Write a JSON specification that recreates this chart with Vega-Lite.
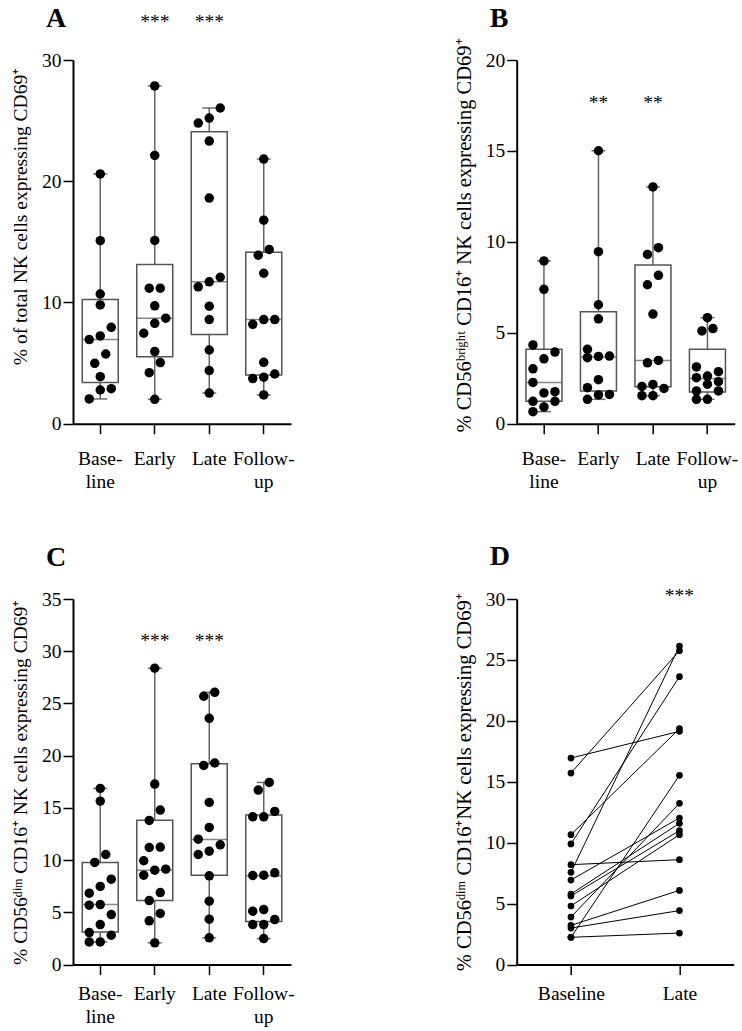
{
  "$schema": "https://vega.github.io/schema/vega-lite/v6.json",
  "background": "white",
  "padding": {"left": 10, "top": 5, "right": 5, "bottom": 5},
  "columns": 2,
  "spacing": {"row": 175, "column": 225.7},
  "bounds": "flush",
  "datasets": {
    "pa": [
      {"group": "Baseline", "value": 20.6}, {"group": "Baseline", "value": 15.1}, {"group": "Baseline", "value": 10.7}, {"group": "Baseline", "value": 9.8}, {"group": "Baseline", "value": 7.95}, {"group": "Baseline", "value": 7.24}, {"group": "Baseline", "value": 6.94}, {"group": "Baseline", "value": 5.75}, {"group": "Baseline", "value": 4.98}, {"group": "Baseline", "value": 3.88}, {"group": "Baseline", "value": 2.89}, {"group": "Baseline", "value": 2.78}, {"group": "Baseline", "value": 2.04},
      {"group": "Early", "value": 27.86}, {"group": "Early", "value": 22.13}, {"group": "Early", "value": 15.11}, {"group": "Early", "value": 11.18}, {"group": "Early", "value": 11.18}, {"group": "Early", "value": 9.72}, {"group": "Early", "value": 8.7}, {"group": "Early", "value": 8.28}, {"group": "Early", "value": 7.46}, {"group": "Early", "value": 5.95}, {"group": "Early", "value": 5.04}, {"group": "Early", "value": 4.21}, {"group": "Early", "value": 2.01},
      {"group": "Late", "value": 26.04}, {"group": "Late", "value": 25.21}, {"group": "Late", "value": 24.8}, {"group": "Late", "value": 23.31}, {"group": "Late", "value": 18.61}, {"group": "Late", "value": 12.08}, {"group": "Late", "value": 11.7}, {"group": "Late", "value": 11.29}, {"group": "Late", "value": 9.69}, {"group": "Late", "value": 8.59}, {"group": "Late", "value": 6.08}, {"group": "Late", "value": 4.38}, {"group": "Late", "value": 2.53},
      {"group": "Follow-up", "value": 21.83}, {"group": "Follow-up", "value": 16.79}, {"group": "Follow-up", "value": 14.37}, {"group": "Follow-up", "value": 13.9}, {"group": "Follow-up", "value": 12.41}, {"group": "Follow-up", "value": 8.59}, {"group": "Follow-up", "value": 8.59}, {"group": "Follow-up", "value": 8.2}, {"group": "Follow-up", "value": 5.06}, {"group": "Follow-up", "value": 4.1}, {"group": "Follow-up", "value": 3.83}, {"group": "Follow-up", "value": 3.72}, {"group": "Follow-up", "value": 2.37}
    ],
    "sa": [
      {"group": "Baseline", "min": 2.04, "q1": 3.39, "med": 6.94, "q3": 10.24, "max": 20.6},
      {"group": "Early", "min": 2.01, "q1": 5.53, "med": 8.7, "q3": 13.13, "max": 27.86},
      {"group": "Late", "min": 2.53, "q1": 7.35, "med": 11.7, "q3": 24.08, "max": 26.04},
      {"group": "Follow-up", "min": 2.37, "q1": 4.02, "med": 8.59, "q3": 14.15, "max": 21.83}
    ],
    "pb": [
      {"group": "Baseline", "value": 8.95}, {"group": "Baseline", "value": 7.39}, {"group": "Baseline", "value": 4.33}, {"group": "Baseline", "value": 3.94}, {"group": "Baseline", "value": 3.57}, {"group": "Baseline", "value": 3.02}, {"group": "Baseline", "value": 2.27}, {"group": "Baseline", "value": 1.76}, {"group": "Baseline", "value": 1.69}, {"group": "Baseline", "value": 1.23}, {"group": "Baseline", "value": 1.23}, {"group": "Baseline", "value": 0.92}, {"group": "Baseline", "value": 0.66},
      {"group": "Early", "value": 15.01}, {"group": "Early", "value": 9.46}, {"group": "Early", "value": 6.54}, {"group": "Early", "value": 5.77}, {"group": "Early", "value": 4.09}, {"group": "Early", "value": 3.72}, {"group": "Early", "value": 3.7}, {"group": "Early", "value": 3.63}, {"group": "Early", "value": 2.42}, {"group": "Early", "value": 1.98}, {"group": "Early", "value": 1.61}, {"group": "Early", "value": 1.58}, {"group": "Early", "value": 1.34},
      {"group": "Late", "value": 13.02}, {"group": "Late", "value": 9.68}, {"group": "Late", "value": 9.31}, {"group": "Late", "value": 8.16}, {"group": "Late", "value": 7.64}, {"group": "Late", "value": 6.03}, {"group": "Late", "value": 3.48}, {"group": "Late", "value": 3.35}, {"group": "Late", "value": 2.16}, {"group": "Late", "value": 2.05}, {"group": "Late", "value": 1.94}, {"group": "Late", "value": 1.54}, {"group": "Late", "value": 1.54},
      {"group": "Follow-up", "value": 5.83}, {"group": "Follow-up", "value": 5.23}, {"group": "Follow-up", "value": 5.1}, {"group": "Follow-up", "value": 3.12}, {"group": "Follow-up", "value": 2.86}, {"group": "Follow-up", "value": 2.62}, {"group": "Follow-up", "value": 2.53}, {"group": "Follow-up", "value": 2.31}, {"group": "Follow-up", "value": 2.17}, {"group": "Follow-up", "value": 1.8}, {"group": "Follow-up", "value": 1.8}, {"group": "Follow-up", "value": 1.34}, {"group": "Follow-up", "value": 1.34}
    ],
    "sb": [
      {"group": "Baseline", "min": 0.66, "q1": 1.23, "med": 2.27, "q3": 4.09, "max": 8.95},
      {"group": "Early", "min": 1.34, "q1": 1.8, "med": 3.67, "q3": 6.16, "max": 15.01},
      {"group": "Late", "min": 1.54, "q1": 2.03, "med": 3.48, "q3": 8.73, "max": 13.02},
      {"group": "Follow-up", "min": 1.34, "q1": 1.74, "med": 2.49, "q3": 4.09, "max": 5.83}
    ],
    "pc": [
      {"group": "Baseline", "value": 16.87}, {"group": "Baseline", "value": 15.65}, {"group": "Baseline", "value": 10.54}, {"group": "Baseline", "value": 9.78}, {"group": "Baseline", "value": 8.18}, {"group": "Baseline", "value": 7.48}, {"group": "Baseline", "value": 6.84}, {"group": "Baseline", "value": 5.75}, {"group": "Baseline", "value": 5.69}, {"group": "Baseline", "value": 4.79}, {"group": "Baseline", "value": 3.83}, {"group": "Baseline", "value": 3.07}, {"group": "Baseline", "value": 2.81}, {"group": "Baseline", "value": 2.17}, {"group": "Baseline", "value": 2.17},
      {"group": "Early", "value": 28.37}, {"group": "Early", "value": 17.28}, {"group": "Early", "value": 14.79}, {"group": "Early", "value": 13.8}, {"group": "Early", "value": 11.25}, {"group": "Early", "value": 11.21}, {"group": "Early", "value": 9.94}, {"group": "Early", "value": 9.14}, {"group": "Early", "value": 9.04}, {"group": "Early", "value": 8.56}, {"group": "Early", "value": 6.9}, {"group": "Early", "value": 6.13}, {"group": "Early", "value": 4.89}, {"group": "Early", "value": 4.19}, {"group": "Early", "value": 2.08},
      {"group": "Late", "value": 26.07}, {"group": "Late", "value": 25.69}, {"group": "Late", "value": 23.58}, {"group": "Late", "value": 19.3}, {"group": "Late", "value": 19.07}, {"group": "Late", "value": 15.53}, {"group": "Late", "value": 13.13}, {"group": "Late", "value": 12.01}, {"group": "Late", "value": 11.47}, {"group": "Late", "value": 10.86}, {"group": "Late", "value": 10.54}, {"group": "Late", "value": 8.5}, {"group": "Late", "value": 6.07}, {"group": "Late", "value": 4.35}, {"group": "Late", "value": 2.56},
      {"group": "Follow-up", "value": 17.44}, {"group": "Follow-up", "value": 16.71}, {"group": "Follow-up", "value": 14.66}, {"group": "Follow-up", "value": 14.15}, {"group": "Follow-up", "value": 14.15}, {"group": "Follow-up", "value": 8.79}, {"group": "Follow-up", "value": 8.56}, {"group": "Follow-up", "value": 8.53}, {"group": "Follow-up", "value": 5.27}, {"group": "Follow-up", "value": 5.11}, {"group": "Follow-up", "value": 4.31}, {"group": "Follow-up", "value": 3.83}, {"group": "Follow-up", "value": 3.83}, {"group": "Follow-up", "value": 2.49}
    ],
    "sc": [
      {"group": "Baseline", "min": 2.17, "q1": 3.13, "med": 5.75, "q3": 9.78, "max": 16.87},
      {"group": "Early", "min": 2.08, "q1": 6.13, "med": 9.04, "q3": 13.83, "max": 28.37},
      {"group": "Late", "min": 2.56, "q1": 8.56, "med": 11.98, "q3": 19.23, "max": 26.07},
      {"group": "Follow-up", "min": 2.49, "q1": 4.12, "med": 8.5, "q3": 14.31, "max": 17.44}
    ],
    "pd": [
      {"id": 1, "time": "Baseline", "value": 16.95}, {"id": 1, "time": "Late", "value": 19.14},
      {"id": 2, "time": "Baseline", "value": 15.72}, {"id": 2, "time": "Late", "value": 25.76},
      {"id": 3, "time": "Baseline", "value": 10.66}, {"id": 3, "time": "Late", "value": 19.36},
      {"id": 4, "time": "Baseline", "value": 9.9}, {"id": 4, "time": "Late", "value": 23.63},
      {"id": 5, "time": "Baseline", "value": 8.2}, {"id": 5, "time": "Late", "value": 8.61},
      {"id": 6, "time": "Baseline", "value": 7.57}, {"id": 6, "time": "Late", "value": 26.14},
      {"id": 7, "time": "Baseline", "value": 6.94}, {"id": 7, "time": "Late", "value": 12.03},
      {"id": 8, "time": "Baseline", "value": 5.79}, {"id": 8, "time": "Late", "value": 11.59},
      {"id": 9, "time": "Baseline", "value": 5.63}, {"id": 9, "time": "Late", "value": 10.99},
      {"id": 10, "time": "Baseline", "value": 4.81}, {"id": 10, "time": "Late", "value": 10.66},
      {"id": 11, "time": "Baseline", "value": 3.9}, {"id": 11, "time": "Late", "value": 13.23},
      {"id": 12, "time": "Baseline", "value": 3.22}, {"id": 12, "time": "Late", "value": 6.09},
      {"id": 13, "time": "Baseline", "value": 3.0}, {"id": 13, "time": "Late", "value": 4.43},
      {"id": 14, "time": "Baseline", "value": 2.24}, {"id": 14, "time": "Late", "value": 15.53},
      {"id": 15, "time": "Baseline", "value": 2.24}, {"id": 15, "time": "Late", "value": 2.59}
    ]
  },
  "concat": [
    {
      "width": 218, "height": 363.7,
      "title": {"text": "A", "anchor": "start", "frame": "group", "dx": -27, "offset": -21, "fontSize": 28, "fontWeight": "bold", "font": "Liberation Serif", "color": "black"},
      "layer": [
        {"data": {"name": "sa"}, "mark": {"type": "rule", "color": "#666", "strokeWidth": 1.5},
         "encoding": {
           "x": {"field": "group", "type": "nominal", "title": null, "scale": {"domain": ["Baseline", "Early", "Late", "Follow-up"], "paddingInner": 0, "paddingOuter": 0}, "axis": {"labelPadding": 16, "labelExpr": "datum.value == 'Baseline' ? ['Base-', 'line'] : datum.value == 'Follow-up' ? ['Follow-', 'up'] : datum.value"}},
           "y": {"field": "min", "type": "quantitative", "title": "% of total NK cells expressing CD69⁺", "scale": {"domain": [0, 30], "nice": false}, "axis": {"values": [0, 10, 20, 30], "titleY": 156}},
           "y2": {"field": "max"}}},
        {"data": {"name": "sa"}, "mark": {"type": "bar", "width": 36, "fill": "white", "stroke": "#555", "strokeWidth": 1.5},
         "encoding": {"x": {"field": "group", "type": "nominal", "title": null}, "y": {"field": "q1", "type": "quantitative", "title": "% of total NK cells expressing CD69⁺"}, "y2": {"field": "q3"}}},
        {"data": {"name": "sa"}, "mark": {"type": "tick", "size": 36, "thickness": 1.5, "color": "#555"},
         "encoding": {"x": {"field": "group", "type": "nominal", "title": null}, "y": {"field": "med", "type": "quantitative", "title": "% of total NK cells expressing CD69⁺"}}},
        {"data": {"name": "sa"}, "mark": {"type": "tick", "size": 14, "thickness": 1.5, "color": "#333"},
         "encoding": {"x": {"field": "group", "type": "nominal", "title": null}, "y": {"field": "min", "type": "quantitative", "title": "% of total NK cells expressing CD69⁺"}}},
        {"data": {"name": "sa"}, "mark": {"type": "tick", "size": 14, "thickness": 1.5, "color": "#333"},
         "encoding": {"x": {"field": "group", "type": "nominal", "title": null}, "y": {"field": "max", "type": "quantitative", "title": "% of total NK cells expressing CD69⁺"}}},
        {"data": {"name": "pa"},
         "transform": [
           {"window": [{"op": "lag", "field": "value", "as": "prev"}], "groupby": ["group"], "sort": [{"field": "value", "order": "ascending"}]},
           {"calculate": "datum.prev == null || datum.value - datum.prev > 0.85 ? 1 : 0", "as": "brk"},
           {"window": [{"op": "sum", "field": "brk", "as": "cl"}], "groupby": ["group"], "sort": [{"field": "value", "order": "ascending"}]},
           {"window": [{"op": "row_number", "as": "k"}], "groupby": ["group", "cl"], "sort": [{"field": "value", "order": "ascending"}]},
           {"joinaggregate": [{"op": "count", "as": "n"}], "groupby": ["group", "cl"]},
           {"calculate": "datum.n == 1 ? 0 : datum.n == 2 ? datum.k - 1.5 : ((datum.k - 1) % 3) - 1", "as": "off"}
         ],
         "mark": {"type": "circle", "size": 90, "color": "black", "opacity": 1},
         "encoding": {"x": {"field": "group", "type": "nominal", "title": null},
           "xOffset": {"field": "off", "type": "quantitative", "scale": {"domain": [-1, 1], "range": [16.25, 38.25]}},
           "y": {"field": "value", "type": "quantitative", "title": "% of total NK cells expressing CD69⁺"}}},
        {"data": {"values": [{"group": "Early", "label": "***"}, {"group": "Late", "label": "***"}]},
         "mark": {"type": "text", "fontSize": 19.5, "baseline": "alphabetic", "font": "Liberation Serif", "color": "black"},
         "encoding": {"x": {"field": "group", "type": "nominal", "title": null}, "y": {"datum": 32.6, "type": "quantitative", "title": "% of total NK cells expressing CD69⁺"}, "text": {"field": "label"}}}
      ]
    },
    {
      "width": 218, "height": 363.7,
      "title": {"text": "B", "anchor": "start", "frame": "group", "dx": -27, "offset": 2, "fontSize": 28, "fontWeight": "bold", "font": "Liberation Serif", "color": "black"},
      "layer": [
        {"data": {"name": "sb"}, "mark": {"type": "rule", "color": "#666", "strokeWidth": 1.5},
         "encoding": {
           "x": {"field": "group", "type": "nominal", "title": null, "scale": {"domain": ["Baseline", "Early", "Late", "Follow-up"], "paddingInner": 0, "paddingOuter": 0}, "axis": {"labelPadding": 16, "labelExpr": "datum.value == 'Baseline' ? ['Base-', 'line'] : datum.value == 'Follow-up' ? ['Follow-', 'up'] : datum.value"}},
           "y": {"field": "min", "type": "quantitative", "title": "% CD56ᵇʳⁱᵍʰᵗ CD16⁺ NK  cells expressing CD69⁺", "scale": {"domain": [0, 20], "nice": false}, "axis": {"values": [0, 5, 10, 15, 20], "titleFontSize": 20.5, "titleY": 175}},
           "y2": {"field": "max"}}},
        {"data": {"name": "sb"}, "mark": {"type": "bar", "width": 36, "fill": "white", "stroke": "#555", "strokeWidth": 1.5},
         "encoding": {"x": {"field": "group", "type": "nominal", "title": null}, "y": {"field": "q1", "type": "quantitative", "title": "% CD56ᵇʳⁱᵍʰᵗ CD16⁺ NK  cells expressing CD69⁺"}, "y2": {"field": "q3"}}},
        {"data": {"name": "sb"}, "mark": {"type": "tick", "size": 36, "thickness": 1.5, "color": "#555"},
         "encoding": {"x": {"field": "group", "type": "nominal", "title": null}, "y": {"field": "med", "type": "quantitative", "title": "% CD56ᵇʳⁱᵍʰᵗ CD16⁺ NK  cells expressing CD69⁺"}}},
        {"data": {"name": "sb"}, "mark": {"type": "tick", "size": 14, "thickness": 1.5, "color": "#333"},
         "encoding": {"x": {"field": "group", "type": "nominal", "title": null}, "y": {"field": "min", "type": "quantitative", "title": "% CD56ᵇʳⁱᵍʰᵗ CD16⁺ NK  cells expressing CD69⁺"}}},
        {"data": {"name": "sb"}, "mark": {"type": "tick", "size": 14, "thickness": 1.5, "color": "#333"},
         "encoding": {"x": {"field": "group", "type": "nominal", "title": null}, "y": {"field": "max", "type": "quantitative", "title": "% CD56ᵇʳⁱᵍʰᵗ CD16⁺ NK  cells expressing CD69⁺"}}},
        {"data": {"name": "pb"},
         "transform": [
           {"window": [{"op": "lag", "field": "value", "as": "prev"}], "groupby": ["group"], "sort": [{"field": "value", "order": "ascending"}]},
           {"calculate": "datum.prev == null || datum.value - datum.prev > 0.58 ? 1 : 0", "as": "brk"},
           {"window": [{"op": "sum", "field": "brk", "as": "cl"}], "groupby": ["group"], "sort": [{"field": "value", "order": "ascending"}]},
           {"window": [{"op": "row_number", "as": "k"}], "groupby": ["group", "cl"], "sort": [{"field": "value", "order": "ascending"}]},
           {"joinaggregate": [{"op": "count", "as": "n"}], "groupby": ["group", "cl"]},
           {"calculate": "datum.n == 1 ? 0 : datum.n == 2 ? datum.k - 1.5 : ((datum.k - 1) % 3) - 1", "as": "off"}
         ],
         "mark": {"type": "circle", "size": 90, "color": "black", "opacity": 1},
         "encoding": {"x": {"field": "group", "type": "nominal", "title": null},
           "xOffset": {"field": "off", "type": "quantitative", "scale": {"domain": [-1, 1], "range": [16.25, 38.25]}},
           "y": {"field": "value", "type": "quantitative", "title": "% CD56ᵇʳⁱᵍʰᵗ CD16⁺ NK  cells expressing CD69⁺"}}},
        {"data": {"values": [{"group": "Early", "label": "**"}, {"group": "Late", "label": "**"}]},
         "mark": {"type": "text", "fontSize": 19.5, "baseline": "alphabetic", "font": "Liberation Serif", "color": "black"},
         "encoding": {"x": {"field": "group", "type": "nominal", "title": null}, "y": {"datum": 17.3, "type": "quantitative", "title": "% CD56ᵇʳⁱᵍʰᵗ CD16⁺ NK  cells expressing CD69⁺"}, "text": {"field": "label"}}}
      ]
    },
    {
      "width": 218, "height": 365.6,
      "title": {"text": "C", "anchor": "start", "frame": "group", "dx": -27, "offset": 17, "fontSize": 28, "fontWeight": "bold", "font": "Liberation Serif", "color": "black"},
      "layer": [
        {"data": {"name": "sc"}, "mark": {"type": "rule", "color": "#666", "strokeWidth": 1.5},
         "encoding": {
           "x": {"field": "group", "type": "nominal", "title": null, "scale": {"domain": ["Baseline", "Early", "Late", "Follow-up"], "paddingInner": 0, "paddingOuter": 0}, "axis": {"labelExpr": "datum.value == 'Baseline' ? ['Base-', 'line'] : datum.value == 'Follow-up' ? ['Follow-', 'up'] : datum.value"}},
           "y": {"field": "min", "type": "quantitative", "title": "% CD56ᵈⁱᵐ CD16⁺ NK  cells expressing CD69⁺", "scale": {"domain": [0, 35], "nice": false}, "axis": {"values": [0, 5, 10, 15, 20, 25, 30, 35]}},
           "y2": {"field": "max"}}},
        {"data": {"name": "sc"}, "mark": {"type": "bar", "width": 36, "fill": "white", "stroke": "#555", "strokeWidth": 1.5},
         "encoding": {"x": {"field": "group", "type": "nominal", "title": null}, "y": {"field": "q1", "type": "quantitative", "title": "% CD56ᵈⁱᵐ CD16⁺ NK  cells expressing CD69⁺"}, "y2": {"field": "q3"}}},
        {"data": {"name": "sc"}, "mark": {"type": "tick", "size": 36, "thickness": 1.5, "color": "#555"},
         "encoding": {"x": {"field": "group", "type": "nominal", "title": null}, "y": {"field": "med", "type": "quantitative", "title": "% CD56ᵈⁱᵐ CD16⁺ NK  cells expressing CD69⁺"}}},
        {"data": {"name": "sc"}, "mark": {"type": "tick", "size": 14, "thickness": 1.5, "color": "#333"},
         "encoding": {"x": {"field": "group", "type": "nominal", "title": null}, "y": {"field": "min", "type": "quantitative", "title": "% CD56ᵈⁱᵐ CD16⁺ NK  cells expressing CD69⁺"}}},
        {"data": {"name": "sc"}, "mark": {"type": "tick", "size": 14, "thickness": 1.5, "color": "#333"},
         "encoding": {"x": {"field": "group", "type": "nominal", "title": null}, "y": {"field": "max", "type": "quantitative", "title": "% CD56ᵈⁱᵐ CD16⁺ NK  cells expressing CD69⁺"}}},
        {"data": {"name": "pc"},
         "transform": [
           {"window": [{"op": "lag", "field": "value", "as": "prev"}], "groupby": ["group"], "sort": [{"field": "value", "order": "ascending"}]},
           {"calculate": "datum.prev == null || datum.value - datum.prev > 1.0 ? 1 : 0", "as": "brk"},
           {"window": [{"op": "sum", "field": "brk", "as": "cl"}], "groupby": ["group"], "sort": [{"field": "value", "order": "ascending"}]},
           {"window": [{"op": "row_number", "as": "k"}], "groupby": ["group", "cl"], "sort": [{"field": "value", "order": "ascending"}]},
           {"joinaggregate": [{"op": "count", "as": "n"}], "groupby": ["group", "cl"]},
           {"calculate": "datum.n == 1 ? 0 : datum.n == 2 ? datum.k - 1.5 : ((datum.k - 1) % 3) - 1", "as": "off"}
         ],
         "mark": {"type": "circle", "size": 90, "color": "black", "opacity": 1},
         "encoding": {"x": {"field": "group", "type": "nominal", "title": null},
           "xOffset": {"field": "off", "type": "quantitative", "scale": {"domain": [-1, 1], "range": [16.25, 38.25]}},
           "y": {"field": "value", "type": "quantitative", "title": "% CD56ᵈⁱᵐ CD16⁺ NK  cells expressing CD69⁺"}}},
        {"data": {"values": [{"group": "Early", "label": "***"}, {"group": "Late", "label": "***"}]},
         "mark": {"type": "text", "fontSize": 19.5, "baseline": "alphabetic", "font": "Liberation Serif", "color": "black"},
         "encoding": {"x": {"field": "group", "type": "nominal", "title": null}, "y": {"datum": 30.4, "type": "quantitative", "title": "% CD56ᵈⁱᵐ CD16⁺ NK  cells expressing CD69⁺"}, "text": {"field": "label"}}}
      ]
    },
    {
      "width": 217, "height": 365.6,
      "title": {"text": "D", "anchor": "start", "frame": "group", "dx": -27, "offset": 15, "fontSize": 28, "fontWeight": "bold", "font": "Liberation Serif", "color": "black"},
      "layer": [
        {"data": {"name": "pd"}, "mark": {"type": "line", "color": "black", "strokeWidth": 1},
         "encoding": {
           "x": {"field": "time", "type": "nominal", "title": null, "scale": {"domain": ["Baseline", "Late"], "paddingInner": 0, "paddingOuter": 0}},
           "y": {"field": "value", "type": "quantitative", "title": "% CD56ᵈⁱᵐ CD16⁺NK  cells expressing CD69⁺", "scale": {"domain": [0, 30], "nice": false}, "axis": {"values": [0, 5, 10, 15, 20, 25, 30], "titleFontSize": 20.5}},
           "detail": {"field": "id", "type": "nominal"}}},
        {"data": {"name": "pd"}, "mark": {"type": "circle", "size": 45, "color": "black", "opacity": 1},
         "encoding": {"x": {"field": "time", "type": "nominal", "title": null}, "y": {"field": "value", "type": "quantitative", "title": "% CD56ᵈⁱᵐ CD16⁺NK  cells expressing CD69⁺"}}},
        {"data": {"values": [{"time": "Late", "label": "***"}]},
         "mark": {"type": "text", "fontSize": 19.5, "baseline": "alphabetic", "font": "Liberation Serif", "color": "black"},
         "encoding": {"x": {"field": "time", "type": "nominal", "title": null}, "y": {"datum": 29.73, "type": "quantitative", "title": "% CD56ᵈⁱᵐ CD16⁺NK  cells expressing CD69⁺"}, "text": {"field": "label"}}}
      ]
    }
  ],
  "config": {
    "font": "Liberation Serif",
    "view": {"stroke": null},
    "axis": {"grid": false, "domainColor": "black", "domainWidth": 2, "tickColor": "black", "tickWidth": 1.5, "tickSize": 10, "labelColor": "black", "labelFont": "Liberation Serif", "labelFontSize": 19.5, "titleFont": "Liberation Serif", "titleFontSize": 19.5, "titleFontWeight": "normal", "titleColor": "black", "labelOverlap": false},
    "axisX": {"labelAngle": 0, "labelPadding": 10, "labelLineHeight": 23},
    "axisY": {"labelPadding": 2, "titlePadding": 11}
  }
}
